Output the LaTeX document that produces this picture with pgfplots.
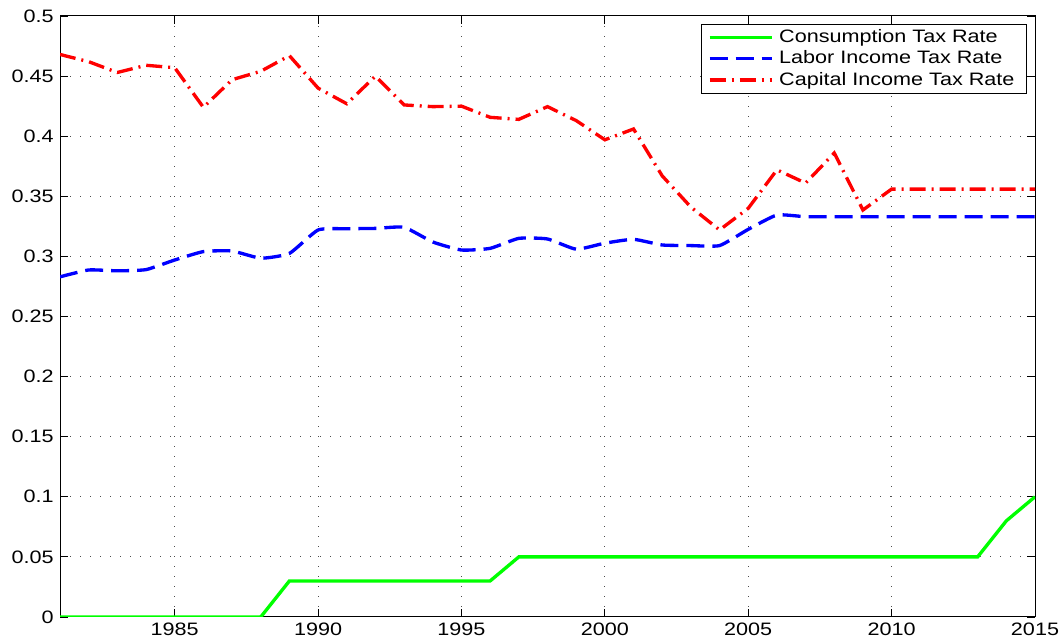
\documentclass[border=0pt]{standalone}
\usepackage{pgfplots}
\pgfplotsset{compat=1.18}
\usepackage{fontspec}
\setmainfont{Liberation Sans}[FakeStretch=1.2]
\definecolor{mgreen}{RGB}{0,255,0}
\definecolor{mblue}{RGB}{0,0,255}
\definecolor{mred}{RGB}{255,0,0}
\begin{document}
\fontsize{13.5pt}{16pt}\selectfont
\begin{tikzpicture}
\path[use as bounding box] (-45pt,-16.5pt) rectangle (750pt,462.75pt);
\begin{axis}[
  at={(0,0)}, anchor=south west,
  scale only axis,
  width=731.25pt, height=450.75pt,
  xmin=1981, xmax=2015, ymin=0, ymax=0.5,
  xtick={1985,1990,...,2015},
  ytick={0,0.05,...,0.5},
  yticklabels={0,0.05,0.1,0.15,0.2,0.25,0.3,0.35,0.4,0.45,0.5},
  xticklabel style={/pgf/number format/1000 sep={}},
  /pgf/number format/assume math mode=true,
  tick align=inside,
  major tick length=6pt,
  tick style={black, line width=0.6pt},
  axis line style={black, line width=0.75pt},
  grid=major,
  major grid style={black!70, line width=0.75pt, dash pattern=on 0.75pt off 6.75pt},
  ticklabel style={font=\fontsize{13.5pt}{16pt}\selectfont},
  legend style={at={(1,1)}, anchor=north east, xshift=-6pt, yshift=-6pt,
    draw=black, line width=0.75pt, font=\fontsize{13.5pt}{16pt}\selectfont,
    inner xsep=5pt, inner ysep=2pt, row sep=0pt, cells={anchor=west},
    nodes={inner xsep=4pt}},
  legend cell align=left,
  legend image code/.code={\draw[#1] (0pt,0pt) -- (47pt,0pt);},
]
\addplot[mgreen, line width=2.5pt] coordinates {
(1981,0)(1982,0)(1983,0)(1984,0)(1985,0)(1986,0)(1987,0)(1988,0)
(1989,0.03)(1990,0.03)(1991,0.03)(1992,0.03)(1993,0.03)(1994,0.03)(1995,0.03)(1996,0.03)
(1997,0.05)(1998,0.05)(1999,0.05)(2000,0.05)(2001,0.05)(2002,0.05)(2003,0.05)(2004,0.05)
(2005,0.05)(2006,0.05)(2007,0.05)(2008,0.05)(2009,0.05)(2010,0.05)(2011,0.05)(2012,0.05)(2013,0.05)
(2014,0.08)(2015,0.1)};
\addlegendentry{Consumption Tax Rate}
\addplot[mblue, line width=2.5pt, dash pattern=on 13.5pt off 6pt, smooth, tension=0.3] coordinates {
(1981,0.283)(1982,0.2887)(1983,0.288)(1984,0.289)(1985,0.297)(1986,0.304)(1987,0.3045)(1988,0.2985)
(1989,0.3025)(1990,0.322)(1991,0.323)(1992,0.3233)(1993,0.3242)(1994,0.312)(1995,0.3053)(1996,0.3067)
(1997,0.315)(1998,0.3145)(1999,0.306)(2000,0.311)(2001,0.3142)(2002,0.3095)(2003,0.309)(2004,0.309)
(2005,0.3225)(2006,0.3344)(2007,0.333)(2008,0.333)(2009,0.333)(2010,0.333)(2011,0.333)(2012,0.333)
(2013,0.333)(2014,0.333)(2015,0.333)};
\addlegendentry{Labor Income Tax Rate}
\addplot[mred, line width=2.5pt, dash pattern=on 12pt off 4.5pt on 1.5pt off 4.5pt] coordinates {
(1981,0.468)(1982,0.462)(1983,0.453)(1984,0.459)(1985,0.457)(1986,0.424)(1987,0.447)(1988,0.454)
(1989,0.467)(1990,0.440)(1991,0.427)(1992,0.450)(1993,0.426)(1994,0.4246)(1995,0.425)(1996,0.4157)
(1997,0.414)(1998,0.4246)(1999,0.413)(2000,0.397)(2001,0.406)(2002,0.367)(2003,0.341)(2004,0.322)
(2005,0.340)(2006,0.372)(2007,0.361)(2008,0.386)(2009,0.3386)(2010,0.356)(2011,0.356)(2012,0.356)
(2013,0.356)(2014,0.356)(2015,0.356)};
\addlegendentry{Capital Income Tax Rate}
\end{axis}
\end{tikzpicture}
\end{document}
